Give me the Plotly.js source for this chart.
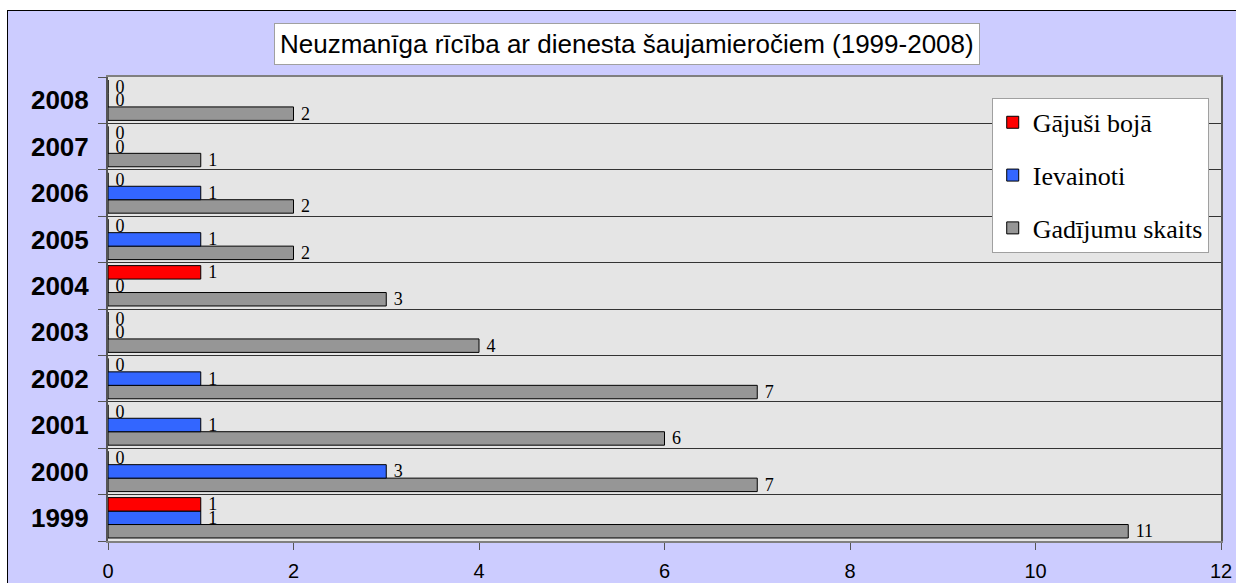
<!DOCTYPE html>
<html>
<head>
<meta charset="utf-8">
<script src="https://cdn.plot.ly/plotly-3.0.1.min.js"></script>
<style>
  html, body { margin: 0; padding: 0; background: #ffffff; width: 1236px; height: 583px; overflow: hidden; }
  #frame { position: absolute; left: 7px; top: 10px; width: 1260px; height: 620px; border: 1.5px solid #000; background: #CCCCFF; }
  #chart { position: absolute; left: 0; top: 0; width: 1236px; height: 583px; }
</style>
</head>
<body>
<div id="frame"></div>
<div id="chart"></div>
<script>
const years = ['1999','2000','2001','2002','2003','2004','2005','2006','2007','2008'];
const gajusiBoja = [1, 0, 0, 0, 0, 1, 0, 0, 0, 0];
const ievainoti = [1, 3, 1, 1, 0, 0, 1, 1, 0, 0];
const gadijumuSkaits = [11, 7, 6, 7, 4, 3, 2, 2, 1, 2];
const seriesNames = ['Gadījumu skaits', 'Ievainoti', 'Gājuši bojā'];
const xTicks = [0, 2, 4, 6, 8, 10, 12];
const titleText = 'Neuzmanīga rīcība ar dienesta šaujamieročiem (1999-2008)';

const serif = 'Liberation Serif, Times New Roman, serif';
const sans = 'Liberation Sans, Arial, sans-serif';

function barTrace(name, vals, color, rank) {
  return {
    type: 'bar', orientation: 'h', name: name, legendgroup: 'g' + rank, legendrank: rank,
    y: years, x: vals,
    text: vals.map(v => '\u00a0' + v), textposition: 'outside', constraintext: 'none', cliponaxis: false,
    textfont: { family: serif, size: 18, color: '#000' },
    marker: { color: color, line: { color: '#000', width: 1 } },
    hoverinfo: 'x+name'
  };
}

const data = [
  barTrace(seriesNames[0], gadijumuSkaits, '#969696', 3),
  barTrace(seriesNames[1], ievainoti, '#3366FF', 2),
  barTrace(seriesNames[2], gajusiBoja, '#FF0000', 1)
];

const layout = {
  width: 1236, height: 583,
  margin: { l: 108, r: 15, t: 77, b: 42, pad: 0 },
  paper_bgcolor: 'rgba(0,0,0,0)',
  plot_bgcolor: '#e5e5e5',
  barmode: 'group', bargap: 0.13, bargroupgap: 0,
  showlegend: true,
  legend: {
    x: 0.794, xanchor: 'left', y: 0.955, yanchor: 'top',
    bgcolor: '#ffffff', bordercolor: '#a0a0a0', borderwidth: 1,
    font: { family: serif, size: 26, color: '#000' },
    traceorder: 'grouped', tracegroupgap: 16, itemwidth: 30
  },
  xaxis: {
    range: [0, 12], tickvals: xTicks, ticktext: xTicks.map(String),
    showgrid: false, zeroline: false,
    showline: true, linecolor: '#808080', linewidth: 2, mirror: true,
    ticks: 'outside', ticklen: 7, tickcolor: '#555', tickwidth: 1,
    ticklabelstandoff: 4,
    tickfont: { family: sans, size: 20, color: '#000' }
  },
  yaxis: {
    type: 'category', categoryorder: 'array', categoryarray: years,
    tickson: 'boundaries', showgrid: true, gridcolor: '#333', gridwidth: 1,
    showline: true, linecolor: '#555', linewidth: 2, mirror: true,
    ticks: 'outside', ticklen: 8, tickcolor: '#555', tickwidth: 1,
    ticklabelstandoff: 12,
    tickfont: { family: sans, size: 26, color: '#000', weight: 'bold' }
  },
  annotations: [{
    xref: 'paper', yref: 'paper', x: 0.466, y: 1, yshift: 12, xanchor: 'center', yanchor: 'bottom',
    text: titleText, showarrow: false,
    font: { family: sans, size: 26, color: '#000' },
    bgcolor: '#ffffff', bordercolor: '#a0a0a0', borderwidth: 1, borderpad: 5
  }]
};

Plotly.newPlot('chart', data, layout, { displayModeBar: false, staticPlot: true });
</script>
</body>
</html>
